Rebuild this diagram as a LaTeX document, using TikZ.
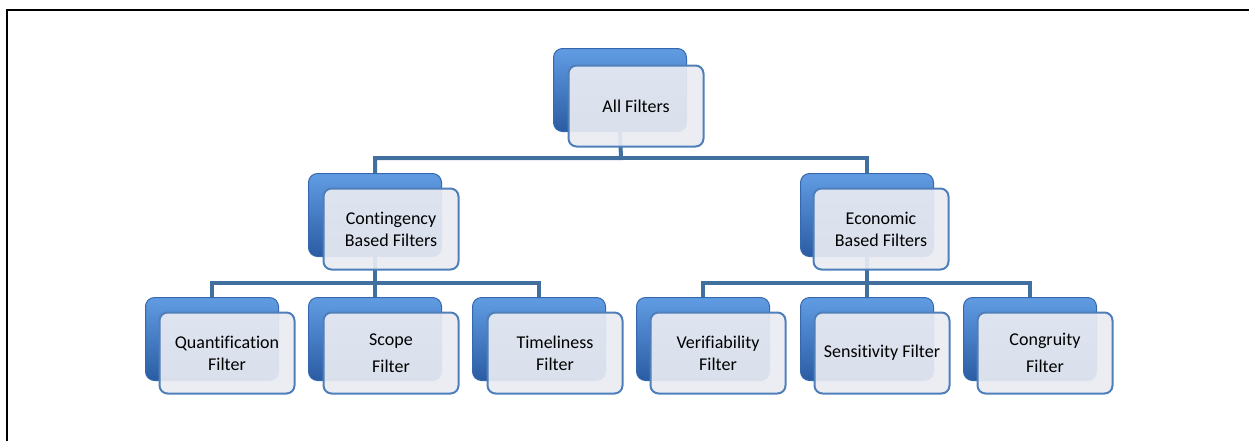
\documentclass[tikz,border=0pt]{standalone}
\usepackage{fontspec}
\setmainfont[Ligatures=NoCommon]{Carlito}
\usetikzlibrary{backgrounds}
\definecolor{barblue}{HTML}{41709F}
\definecolor{boxtop}{HTML}{619CE3}
\definecolor{boxbot}{HTML}{2A5CA3}
\definecolor{boxedge}{HTML}{3568AD}
\definecolor{frontfill}{HTML}{E9ECF2}
\definecolor{frontedge}{HTML}{4F7FBA}
\tikzset{
	backbox/.style={rectangle, rounded corners=9pt, minimum width=133pt, minimum height=83pt,
		top color=boxtop, bottom color=boxbot, draw=boxedge, line width=1pt},
	frontbox/.style={rectangle, rounded corners=8pt, minimum width=135pt, minimum height=81pt,
		fill=frontfill, fill opacity=0.92, text opacity=1, draw=frontedge, line width=2pt,
		align=center, font=\fontsize{18}{22}\selectfont},
	link/.style={draw=barblue, line width=4pt}
}
\begin{document}
\begin{tikzpicture}[x=1pt,y=-1pt]
	\useasboundingbox (0,0) rectangle (1249,440);
	\draw[line width=2pt] (7,450) -- (7,10) -- (1260,10);
	% top
	\node[backbox] (allB) at (620,90) {};
	\node[frontbox] (all) at (636,106) {All Filters};
	% middle row
	\node[backbox] (contB) at (375,215) {};
	\node[frontbox] (cont) at (391,229) {Contingency\\Based Filters};
	\node[backbox] (ecoB) at (867,215) {};
	\node[frontbox] (eco) at (881,229) {Economic\\Based Filters};
	% bottom row
	\node[backbox] (quantB) at (212,339) {};
	\node[frontbox] (quant) at (227,353) {Quantification\\Filter};
	\node[backbox] (scopeB) at (375,339) {};
	\node[frontbox] (scope) at (391,353) {Scope\\[5pt]Filter};
	\node[backbox] (timeB) at (539,339) {};
	\node[frontbox] (time) at (555,353) {Timeliness\\Filter};
	\node[backbox] (verB) at (703,339) {};
	\node[frontbox] (ver) at (718,353) {Verifiability\\Filter};
	\node[backbox] (sensB) at (867,339) {};
	\node[frontbox] (sens) at (882,353) {Sensitivity Filter};
	\node[backbox] (congB) at (1030,339) {};
	\node[frontbox] (cong) at (1045,353) {Congruity\\[5pt]Filter};
	% connectors
	\coordinate (busA) at (621,158);
	\coordinate (busC) at (375,283);
	\coordinate (busE) at (867,283);
	\begin{scope}[on background layer]
		\draw[link] (allB.south) -- (busA) -| (contB.north);
		\draw[link] (busA) -| (ecoB.north);
		\draw[link] (contB.south) -- (busC) -| (quantB.north);
		\draw[link] (busC) -- (scopeB.north);
		\draw[link] (busC) -| (timeB.north);
		\draw[link] (ecoB.south) -- (busE) -| (verB.north);
		\draw[link] (busE) -- (sensB.north);
		\draw[link] (busE) -| (congB.north);
	\end{scope}
\end{tikzpicture}
\end{document}
